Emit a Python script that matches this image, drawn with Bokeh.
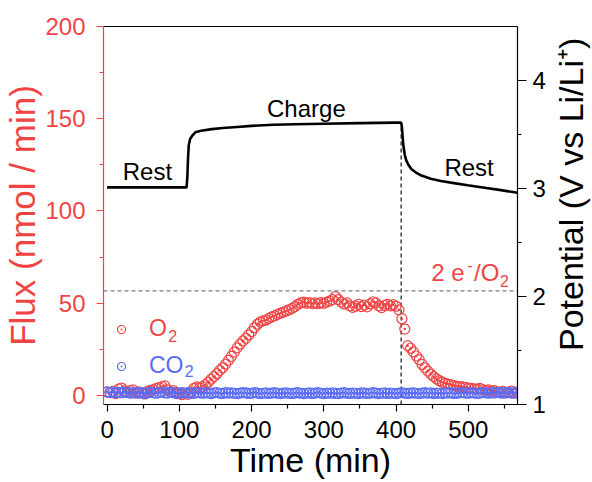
import math

from bokeh.plotting import figure
from bokeh.layouts import row
from bokeh.models import Range1d, LinearAxis, Label, Legend, LegendItem, FixedTicker, Span
from bokeh.embed import file_html
from bokeh.resources import INLINE

# ---- data -------------------------------------------------------------
# DEMS sampling times (min), one point every 4 min
times = list(range(0, 572, 4))

# O2 evolution flux (nmol / min)
o2_flux = [
    2.0, 1.5, 2.2, 1.0, 3.5, 4.0, 2.5, 1.8, 2.6, 3.0,
    1.2, 2.0, 1.5, 0.8, 2.2, 2.8, 3.2, 3.8, 4.2, 4.8,
    5.2, 3.0, 2.0, 2.6, 1.6, 0.9, 0.5, 1.2, 0.6, 2.0,
    3.8, 4.6, 4.2, 4.8, 5.8, 7.2, 8.8, 10.2, 11.8, 13.6,
    15.0, 17.0, 19.0, 21.2, 23.5, 25.8, 27.8, 29.6, 31.0, 32.8,
    34.6, 36.8, 38.6, 39.8, 40.5, 40.9, 41.8, 42.6, 43.2, 44.0,
    44.6, 45.2, 45.8, 46.5, 47.2, 48.2, 49.4, 50.2, 50.6, 50.0,
    50.4, 49.8, 50.2, 49.7, 50.3, 49.9, 50.6, 51.2, 52.0, 53.6,
    52.0, 50.6, 49.6, 50.2, 48.6, 47.8, 48.4, 49.4, 48.2, 49.0,
    48.0, 49.6, 50.8, 50.2, 48.6, 47.6, 48.8, 49.4, 48.6, 49.2,
    48.4, 46.4, 41.6, 36.0, 27.0, 25.6, 23.6, 21.4, 19.4, 16.8,
    15.0, 13.2, 11.6, 10.2, 9.0, 8.0, 7.2, 6.6, 6.2, 5.8,
    5.4, 5.0, 4.8, 4.6, 4.4, 4.0, 3.8, 3.6, 3.4, 3.8,
    3.2, 2.8, 3.0, 2.4, 2.6, 2.0, 1.8, 2.2, 1.4, 1.6,
    2.4, 1.2, 2.0,
]

# CO2 evolution flux (nmol / min)
co2_flux = [
    1.8, 1.6, 1.9, 1.5, 1.7, 1.4, 1.8, 1.6, 1.2, 1.5,
    1.7, 1.3, 1.6, 1.1, 1.4, 1.8, 1.5, 1.2, 1.6, 1.9,
    1.4, 1.3, 1.7, 1.5, 1.0, 1.4, 1.6, 1.2, 1.5, 1.3,
    1.1, 1.6, 1.4, 1.2, 1.5, 1.3, 1.0, 1.4, 1.6, 1.2,
    1.1, 1.5, 1.3, 1.4, 1.2, 1.0, 1.3, 1.5, 1.4, 1.1,
    1.2, 1.6, 1.3, 1.0, 1.2, 1.4, 1.1, 1.3, 1.5, 1.2,
    1.0, 1.3, 1.4, 1.2, 1.1, 1.3, 1.5, 1.2, 1.0, 1.2,
    1.4, 1.1, 1.3, 1.6, 1.2, 1.0, 1.3, 1.2, 1.4, 1.1,
    1.0, 1.3, 1.5, 1.2, 1.1, 1.3, 1.2, 1.0, 1.4, 1.3,
    1.1, 1.2, 1.5, 1.3, 1.0, 1.2, 1.4, 1.1, 1.3, 1.2,
    1.0, 1.3, 1.6, 1.2, 1.1, 1.3, 1.4, 1.2, 1.0, 1.3,
    1.5, 1.2, 1.4, 1.1, 1.3, 1.2, 1.0, 1.4, 1.3, 1.5,
    1.1, 1.2, 1.4, 1.6, 1.3, 1.2, 1.5, 1.4, 1.1, 1.3,
    1.6, 1.4, 1.2, 1.5, 1.3, 1.7, 1.4, 1.2, 1.6, 1.5,
    1.3, 1.6, 1.4,
]

# cell potential (V vs Li/Li+): rest, galvanostatic charge, rest
pot_time = [0, 40, 80, 110, 111, 112, 113, 115, 118, 122, 130, 145, 160, 180,
            200, 230, 260, 300, 350, 400, 407, 408, 409, 410, 412, 414, 417,
            421, 427, 435, 448, 462, 480, 499, 520, 545, 568]
pot_volt = [3.01, 3.01, 3.01, 3.01, 3.10, 3.28, 3.40, 3.46, 3.49, 3.52, 3.535,
            3.55, 3.56, 3.57, 3.58, 3.59, 3.595, 3.60, 3.605, 3.61, 3.61, 3.57,
            3.48, 3.40, 3.31, 3.26, 3.22, 3.18, 3.15, 3.12, 3.09, 3.07, 3.05,
            3.03, 3.01, 2.985, 2.96]

charge_end = 407          # min, end of charge step
two_e_flux = 56.7         # nmol / min expected for 2 e- per O2

x_ticks = [0, 100, 200, 300, 400, 500]
x_minor = [50, 150, 250, 350, 450, 550]
flux_ticks = [0, 50, 100, 150, 200]
flux_minor = [25, 75, 125, 175]
pot_ticks = [1, 2, 3, 4]
pot_minor = [1.5, 2.5, 3.5]

# ---- styling ----------------------------------------------------------
FONT = "Liberation Sans"
RED = "#f04444"
BLUE = "#5a6cf4"
TICK_FS = "24px"
H = 482
MAIN_W = 552
SIDE_W = 40

p = figure(width=MAIN_W, height=H, output_backend="svg", toolbar_location=None,
           x_range=Range1d(-5, 568), y_range=Range1d(-4.9, 200),
           min_border_left=102, min_border_right=35, min_border_top=26,
           min_border_bottom=78, background_fill_color="white",
           border_fill_color="white")
p.extra_y_ranges = {"pot": Range1d(1, 4.5)}
p.grid.visible = False
p.outline_line_color = None


def style_axis(ax, color):
    ax.axis_line_color = color
    ax.axis_line_width = 1.2
    ax.major_tick_line_color = color
    ax.minor_tick_line_color = color
    ax.major_tick_line_width = 1.2
    ax.minor_tick_line_width = 1.2
    ax.major_tick_in = 0
    ax.major_tick_out = 7
    ax.minor_tick_in = 0
    ax.minor_tick_out = 4
    ax.major_label_text_font = FONT
    ax.major_label_text_font_size = TICK_FS
    ax.major_label_text_color = color
    ax.axis_label_text_font = FONT
    ax.axis_label_text_font_style = "normal"
    ax.axis_label_text_color = color


# bottom axis
xa = p.xaxis[0]
xa.ticker = FixedTicker(ticks=x_ticks, minor_ticks=x_minor)
style_axis(xa, "black")
xa.major_label_standoff = 9
xa.axis_label = "Time (min)"
xa.axis_label_text_font_size = "34px"
xa.axis_label_standoff = 0

# left axis (flux)
ya = p.yaxis[0]
ya.ticker = FixedTicker(ticks=flux_ticks, minor_ticks=flux_minor)
style_axis(ya, RED)
ya.axis_label = "Flux (nmol / min)"
ya.axis_label_text_font_size = "35px"
ya.major_label_standoff = 11
ya.axis_label_standoff = 0

# right axis (potential); its title sits in a narrow strip to the right
ra = LinearAxis(y_range_name="pot", ticker=FixedTicker(ticks=pot_ticks, minor_ticks=pot_minor))
style_axis(ra, "black")
ra.major_tick_out = 9
ra.major_label_standoff = 6
p.add_layout(ra, "right")

# top frame line
ta = LinearAxis(ticker=FixedTicker(ticks=[]), axis_line_color="black", axis_line_width=1.2,
                major_tick_line_color=None, minor_tick_line_color=None,
                major_label_text_font_size="0px")
p.add_layout(ta, "above")

# ---- reference lines ---------------------------------------------------
p.add_layout(Span(location=two_e_flux, dimension="width", line_color="#7a7a7a",
                  line_dash="4 3", line_width=1.2))

charge_end_volt = pot_volt[pot_time.index(charge_end)]
p.segment(x0=[charge_end], y0=[1.0], x1=[charge_end], y1=[charge_end_volt],
          y_range_name="pot", line_color="#333333", line_dash="4 3", line_width=1.4)

# ---- data marks --------------------------------------------------------
o2r = p.scatter(times, o2_flux, marker="circle_dot", size=10, fill_color=None,
                line_color=RED, line_width=1.2)
co2r = p.scatter(times, co2_flux, marker="circle_dot", size=10, fill_color=None,
                 line_color=BLUE, line_width=1.2)

p.line(pot_time, pot_volt, y_range_name="pot", line_color="black", line_width=2.6)

# ---- annotations -------------------------------------------------------
def note(x, y, text, color="black", size="24px", rng="pot", align="left"):
    p.add_layout(Label(x=x, y=y, y_range_name=rng, text=text, text_font=FONT,
                       text_font_size=size, text_color=color, text_align=align,
                       text_baseline="middle"))


note(55.8, 3.153, "Rest", align="center")
note(275.8, 3.738, "Charge", align="center")
note(501, 3.19, "Rest", align="center")

# 2 e-/O2 marker text, with raised minus and lowered 2
note(448.5, 66.4, "2 e", color=RED, rng="default")
note(498.6, 70.5, "-", color=RED, size="16px", rng="default")
note(507.9, 66.4, "/O", color=RED, rng="default")
note(543.8, 61.8, "2", color=RED, size="16px", rng="default")

# legend: one block per gas so each label keeps its own colour
for rend, text, color, ly in [(o2r, "O", RED, 62), (co2r, "CO", BLUE, 25)]:
    lg = Legend(items=[LegendItem(label=text, renderers=[rend])],
                location=(8, ly), label_text_font=FONT, label_text_font_size="23px",
                label_text_color=color, glyph_width=20, glyph_height=20,
                label_standoff=18, spacing=0, padding=0, margin=0,
                border_line_color=None, background_fill_alpha=0)
    p.add_layout(lg)

note(84.5, 32.1, "2", color=RED, size="16px", rng="default")
note(107.3, 13.1, "2", color=BLUE, size="16px", rng="default")

# ---- right-hand title strip (text reads bottom-to-top) -----------------
side = figure(width=SIDE_W, height=H, output_backend="svg", toolbar_location=None,
              x_range=Range1d(0, SIDE_W), y_range=Range1d(0, H),
              x_axis_location=None, y_axis_location=None,
              min_border=0, min_border_left=0, min_border_right=0,
              min_border_top=0, min_border_bottom=0,
              background_fill_color="white", border_fill_color="white")
side.grid.visible = False
side.outline_line_color = None
side.add_layout(Label(x=18.8, y=268, text="Potential (V vs Li/Li\u207a)", text_font=FONT,
                      text_font_size="34px", text_color="black", text_align="center",
                      text_baseline="middle", angle=math.pi / 2))

open("out.html", "w").write(file_html(row(p, side), INLINE))
